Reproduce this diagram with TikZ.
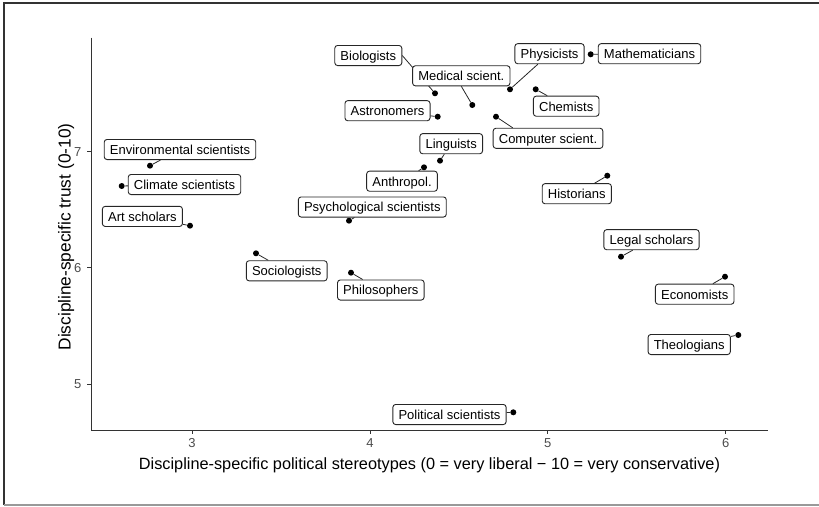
\documentclass[tikz,border=0pt]{standalone}
\usepackage{fontspec}
\setmainfont{Liberation Sans}
\pgfdeclarelayer{background}
\pgfsetlayers{background,main}
\tikzset{
  lbl/.style={draw=black!85, fill=white, rounded corners=2.8pt, line width=0.9pt,
    font=\fontsize{13}{15}\selectfont, text height=10.9pt, text depth=1.2pt,
    inner xsep=5.7pt, inner ysep=4.0pt},
  dot/.style={circle, fill=black, inner sep=0pt, minimum size=6pt},
  seg/.style={draw=black!85, line width=0.8pt},
  axisline/.style={draw=black!80, line width=1pt},
  tickmark/.style={draw=black!80, line width=1pt},
  ticklbl/.style={text=black!70, font=\fontsize{13}{15}\selectfont, inner sep=0pt},
  axtitle/.style={font=\fontsize{16.3}{19}\selectfont, inner sep=0pt},
}
\begin{document}
\begin{tikzpicture}[x=1pt, y=-1pt]
\useasboundingbox (0,0) rectangle (819,506);
% outer frame
\draw[black!80, line width=1.4pt] (4,505) -- (4,3) -- (819,3);
\draw[black!40, line width=1.4pt] (4,505) -- (819,505);

% axes
\coordinate (ytop) at (91,37.7);
\coordinate (orig) at (91,430);
\coordinate (xend) at (768,430);
\draw[axisline] (ytop) -- (orig) -- (xend);

% x ticks
\foreach \v/\px in {3/192,4/370,5/547.8,6/725.7}{
  \coordinate (xt\v) at (\px,430);
  \draw[tickmark] (xt\v) -- ++(0,4);
  \node[ticklbl] (xl\v) at (\px,443) {\v};
}
% y ticks
\foreach \v/\py in {5/384,6/267.8,7/151.6}{
  \coordinate (yt\v) at (91,\py);
  \draw[tickmark] (yt\v) -- ++(-4,0);
  \node[ticklbl, anchor=east] (yl\v) at (81.5,\py) {\v};
}

% axis titles
\node[axtitle, anchor=base] (xtitle) at (429.5,469.3)
  {Discipline-specific political stereotypes (0 = very liberal − 10 = very conservative)};
\node[axtitle, font=\fontsize{17.3}{20}\selectfont, anchor=base, rotate=90] (ytitle) at (70.5,237)
  {Discipline-specific trust (0-10)};

% data points
\node[dot] (pe) at (150,165.7) {};
\node[dot] (pc) at (121.7,186) {};
\node[dot] (pa) at (190,225.7) {};
\node[dot] (pbio) at (435,93.3) {};
\node[dot] (pmed) at (472.3,105) {};
\node[dot] (pphys) at (510,89.3) {};
\node[dot] (pmath) at (590.7,54.3) {};
\node[dot] (pchem) at (535.7,89.3) {};
\node[dot] (pastr) at (437.7,116.7) {};
\node[dot] (pcomp) at (496,116.7) {};
\node[dot] (pling) at (440,160.7) {};
\node[dot] (panth) at (424,167.3) {};
\node[dot] (ppsy) at (349,220.7) {};
\node[dot] (psoc) at (256,253.3) {};
\node[dot] (pphil) at (351,272.7) {};
\node[dot] (phist) at (607.3,175.7) {};
\node[dot] (plegal) at (621,256.7) {};
\node[dot] (pecon) at (725,276.7) {};
\node[dot] (ptheo) at (738.3,335) {};
\node[dot] (ppol) at (513.3,412.3) {};

% labels
\node[lbl] (env) at (180,149.5) {Environmental scientists};
\node[lbl] (clim) at (184.5,184.5) {Climate scientists};
\node[lbl] (art) at (142.4,216.4) {Art scholars};
\node[lbl] (bio) at (368.3,55.5) {Biologists};
\node[lbl] (med) at (461.3,75.8) {Medical scient.};
\node[lbl] (phys) at (549.5,53.7) {Physicists};
\node[lbl] (math) at (649.5,53.7) {Mathematicians};
\node[lbl] (chem) at (566.2,106.2) {Chemists};
\node[lbl] (astr) at (387.5,110.7) {Astronomers};
\node[lbl] (comp) at (548,138.3) {Computer scient.};
\node[lbl] (ling) at (451.2,143.7) {Linguists};
\node[lbl] (anth) at (402,181.2) {Anthropol.};
\node[lbl] (psy) at (372.3,207) {Psychological scientists};
\node[lbl] (soc) at (286.7,270.8) {Sociologists};
\node[lbl] (phil) at (380.8,290) {Philosophers};
\node[lbl] (hist) at (576.8,193.7) {Historians};
\node[lbl] (legal) at (651.5,239.7) {Legal scholars};
\node[lbl] (econ) at (694.7,294.2) {Economists};
\node[lbl] (theo) at (689.2,344.5) {Theologians};
\node[lbl] (pol) at (449.5,414.5) {Political scientists};

% connectors (behind labels)
\begin{pgfonlayer}{background}
\draw[seg] (pe) -- (env);
\draw[seg] (pc) -- (clim);
\draw[seg] (pa) -- (art);
\draw[seg] (pbio) -- (bio.east);
\draw[seg] (pmed) -- (med.south);
\draw[seg] (pphys) -- (phys);
\draw[seg] (pmath) -- (math);
\draw[seg] (pchem) -- (chem);
\draw[seg] (pastr) -- (astr);
\draw[seg] (pcomp) -- ([xshift=20pt]comp.north west);
\draw[seg] (pling) -- (ling);
\draw[seg] (panth) -- (anth);
\draw[seg] (ppsy) -- (psy);
\draw[seg] (psoc) -- (soc);
\draw[seg] (pphil) -- (phil);
\draw[seg] (phist) -- (hist);
\draw[seg] (plegal) -- (legal);
\draw[seg] (pecon) -- (econ);
\draw[seg] (ptheo) -- (theo);
\draw[seg] (ppol) -- (pol);
\end{pgfonlayer}
\end{tikzpicture}
\end{document}
